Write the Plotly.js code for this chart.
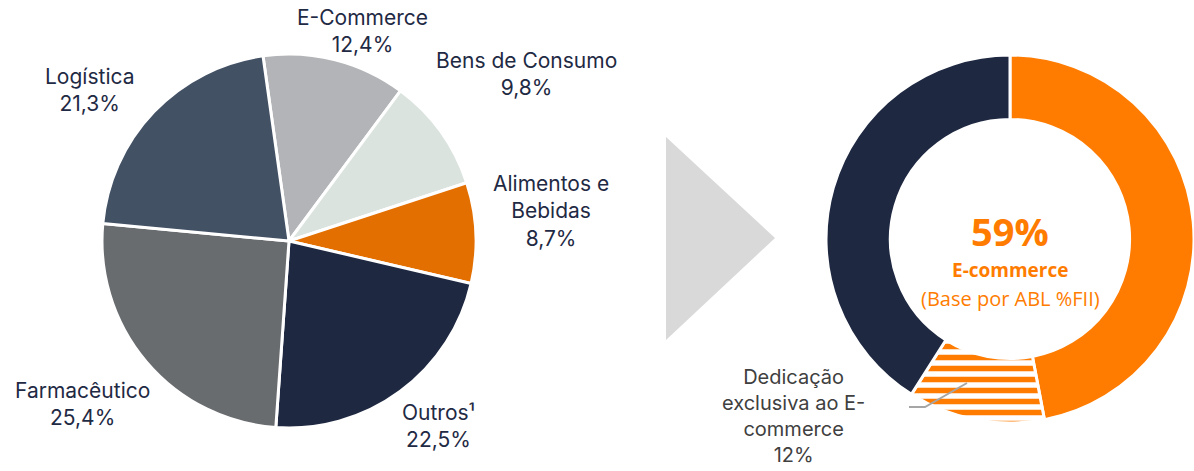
<!DOCTYPE html>
<html>
<head>
<meta charset="utf-8">
<script src="https://cdn.plot.ly/plotly-3.0.1.min.js"></script>
<style>html,body{margin:0;padding:0;background:#fff;}#chart{width:1194px;height:471px;}</style>
</head>
<body>
<div id="chart"></div>
<script>
// Left pie: segment breakdown
const segmentLabels = ['E-Commerce', 'Bens de Consumo', 'Alimentos e<br>Bebidas', 'Outros¹', 'Farmacêutico', 'Logística'];
const segmentValues = [12.4, 9.8, 8.7, 22.5, 25.4, 21.3];
const segmentColors = ['#B3B4B7', '#DAE3DE', '#E36F00', '#1E2841', '#696C6F', '#435165'];

// Right donut: e-commerce share
const donutLabels = ['E-commerce', 'Dedicação exclusiva ao E-commerce', 'Outros'];
const donutValues = [47, 12, 41];
const donutColors = ['#FF7C00', '#FF7C00', '#1E2841'];
const centerTitle = 'E-commerce';
const centerSubtitle = '(Base por ABL %FII)';

const eTotal = donutValues[0] + donutValues[1];

// layout: label block centres (pixels) for the left pie's external labels
const W = 1194, H = 471;
const labelCentres = [[362, 31], [526, 74], [551, 211], [438, 426], [82, 404], [90, 90]];
const fmt = v => v.toFixed(1).replace('.', ',') + '%';

const pie1 = {
  type: 'pie',
  labels: segmentLabels,
  values: segmentValues,
  sort: false,
  direction: 'clockwise',
  rotation: -8,
  marker: {colors: segmentColors, line: {color: '#FFFFFF', width: 3}},
  textinfo: 'none',
  domain: {x: [102/W, 476/W], y: [1 - 428/H, 1 - 54/H]},
  showlegend: false,
  hoverinfo: 'label+value'
};

const pie2 = {
  type: 'pie',
  labels: donutLabels,
  values: donutValues,
  sort: false,
  direction: 'clockwise',
  rotation: 0,
  hole: 0.65,
  marker: {
    colors: donutColors,
    line: {color: '#FFFFFF', width: 3},
    pattern: {shape: ['', '-', ''], fgcolor: '#FF7C00', bgcolor: '#FFFFFF', size: 11, solidity: 0.5, fillmode: 'replace'}
  },
  textinfo: 'none',
  domain: {x: [826/W, 1], y: [1 - 423/H, 1 - 55/H]},
  showlegend: false,
  hoverinfo: 'label+value'
};

const labelFont = {family: 'Inter, "Noto Sans", sans-serif', size: 21, color: '#1F2A44'};
const pieLabelAnns = segmentLabels.map((lab, i) => ({
  xref: 'paper', yref: 'paper',
  x: labelCentres[i][0] / W, y: 1 - labelCentres[i][1] / H,
  xanchor: 'center', yanchor: 'middle', showarrow: false,
  text: lab + '<br>' + fmt(segmentValues[i]),
  font: labelFont
}));

const layout = {
  width: W,
  height: H,
  margin: {l: 0, r: 0, t: 0, b: 0},
  paper_bgcolor: '#FFFFFF',
  plot_bgcolor: '#FFFFFF',
  separators: ',.',
  showlegend: false,
  shapes: [
    {type: 'path', xref: 'paper', yref: 'paper',
     path: 'M 0.5578 0.7091 L 0.6491 0.4947 L 0.5578 0.2781 Z',
     fillcolor: '#D9D9D9', line: {width: 0}},
    {type: 'path', xref: 'paper', yref: 'paper',
     path: 'M ' + (909/W) + ' ' + (1-407/H) + ' L ' + (925/W) + ' ' + (1-407/H) + ' L ' + (967/W) + ' ' + (1-383/H),
     line: {color: '#A6A6A6', width: 2}}
  ],
  annotations: pieLabelAnns.concat([
    {xref: 'paper', yref: 'paper', x: 1010/W, y: 1 - 231/H, xanchor: 'center', yanchor: 'middle', showarrow: false,
     text: '<b>' + eTotal + '%</b>', font: {family: '"Open Sans", sans-serif', size: 38, color: '#FF7C00'}},
    {xref: 'paper', yref: 'paper', x: 1010/W, y: 1 - 270/H, xanchor: 'center', yanchor: 'middle', showarrow: false,
     text: '<b>' + centerTitle + '</b>', font: {family: '"Open Sans", sans-serif', size: 19, color: '#FF7C00'}},
    {xref: 'paper', yref: 'paper', x: 1010/W, y: 1 - 298/H, xanchor: 'center', yanchor: 'middle', showarrow: false,
     text: centerSubtitle, font: {family: '"Open Sans", sans-serif', size: 20, color: '#FF7C00'}},
    {xref: 'paper', yref: 'paper', x: 793/W, y: 1 - 416/H, xanchor: 'center', yanchor: 'middle', showarrow: false,
     text: 'Dedicação<br>exclusiva ao E-<br>commerce<br>' + donutValues[1] + '%',
     font: {family: 'Inter, "Noto Sans", sans-serif', size: 20, color: '#404040'}}
  ])
};

Plotly.newPlot('chart', [pie1, pie2], layout, {displayModeBar: false, staticPlot: true});
</script>
</body>
</html>
